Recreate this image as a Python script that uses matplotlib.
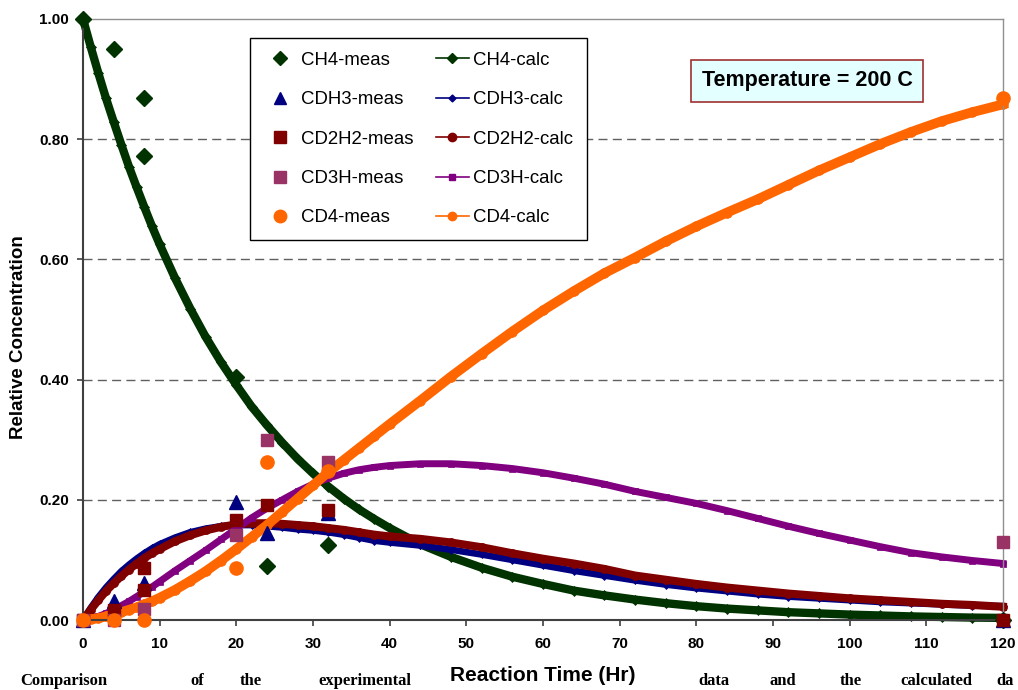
import matplotlib
matplotlib.use("Agg")
import matplotlib.pyplot as plt
from matplotlib.lines import Line2D

plt.rcParams['font.family'] = ['Liberation Sans', 'DejaVu Sans']

# ---------------- data ----------------
t_calc = [0, 1, 2, 3, 4, 5, 6, 7, 8, 9, 10, 12, 14, 16, 18, 20, 22, 24, 26, 28, 30,
          32, 34, 36, 38, 40, 44, 48, 52, 56, 60, 64, 68, 72, 76, 80, 84, 88, 92,
          96, 100, 104, 108, 112, 116, 120]

ch4_calc = [1.000, 0.954, 0.910, 0.868, 0.829, 0.791, 0.754, 0.720, 0.687, 0.655,
            0.625, 0.569, 0.518, 0.471, 0.429, 0.391, 0.355, 0.324, 0.295, 0.268,
            0.244, 0.222, 0.202, 0.184, 0.168, 0.153, 0.126, 0.105, 0.087, 0.072,
            0.060, 0.049, 0.041, 0.034, 0.028, 0.023, 0.019, 0.016, 0.013, 0.011,
            0.009, 0.0075, 0.006, 0.005, 0.004, 0.0035]

cdh3_calc = [0.000, 0.020, 0.038, 0.054, 0.068, 0.081, 0.092, 0.102, 0.111, 0.119,
             0.126, 0.137, 0.146, 0.152, 0.156, 0.158, 0.158, 0.156, 0.154, 0.151,
             0.149, 0.146, 0.142, 0.137, 0.132, 0.129, 0.124, 0.117, 0.109, 0.100,
             0.091, 0.082, 0.074, 0.066, 0.059, 0.053, 0.048, 0.043, 0.039, 0.036,
             0.033, 0.030, 0.028, 0.026, 0.024, 0.023]

cd2h2_calc = [0.000, 0.017, 0.033, 0.048, 0.061, 0.073, 0.084, 0.094, 0.103, 0.111,
              0.118, 0.131, 0.141, 0.149, 0.155, 0.159, 0.161, 0.161, 0.160, 0.158,
              0.156, 0.153, 0.150, 0.146, 0.142, 0.139, 0.135, 0.129, 0.121, 0.111,
              0.102, 0.094, 0.085, 0.074, 0.067, 0.060, 0.054, 0.049, 0.044, 0.040,
              0.036, 0.033, 0.030, 0.027, 0.025, 0.022]

cd3h_calc = [0.000, 0.002, 0.006, 0.011, 0.017, 0.024, 0.031, 0.039, 0.047, 0.055,
             0.064, 0.082, 0.099, 0.116, 0.134, 0.152, 0.170, 0.186, 0.200, 0.214,
             0.226, 0.236, 0.244, 0.250, 0.254, 0.257, 0.260, 0.260, 0.257, 0.252,
             0.245, 0.236, 0.226, 0.214, 0.204, 0.194, 0.182, 0.169, 0.156, 0.144,
             0.133, 0.122, 0.112, 0.105, 0.099, 0.094]

cd4_calc = [0.000, 0.001, 0.003, 0.006, 0.009, 0.013, 0.017, 0.021, 0.026, 0.031,
            0.037, 0.050, 0.065, 0.081, 0.099, 0.118, 0.138, 0.158, 0.180, 0.202,
            0.224, 0.246, 0.266, 0.286, 0.306, 0.326, 0.365, 0.405, 0.443, 0.480,
            0.515, 0.547, 0.577, 0.603, 0.630, 0.655, 0.678, 0.700, 0.724, 0.748,
            0.770, 0.792, 0.812, 0.830, 0.845, 0.858]

t_ch4_meas = [0, 4, 8, 8, 20, 24, 32, 120]
ch4_meas = [1.000, 0.950, 0.868, 0.772, 0.405, 0.090, 0.124, 0.000]

t_cdh3_meas = [0, 4, 8, 20, 24, 32, 120]
cdh3_meas = [0.000, 0.032, 0.062, 0.197, 0.145, 0.178, 0.000]

t_cd2h2_meas = [0, 4, 8, 8, 20, 24, 32, 120]
cd2h2_meas = [0.000, 0.017, 0.086, 0.050, 0.166, 0.191, 0.183, 0.000]

t_cd3h_meas = [0, 4, 8, 20, 24, 32, 120]
cd3h_meas = [0.000, 0.000, 0.019, 0.141, 0.300, 0.263, 0.130]

t_cd4_meas = [0, 4, 8, 20, 24, 32, 120]
cd4_meas = [0.000, 0.000, 0.000, 0.086, 0.263, 0.248, 0.869]

x_ticks = [0, 10, 20, 30, 40, 50, 60, 70, 80, 90, 100, 110, 120]
y_ticks = [0.0, 0.2, 0.4, 0.6, 0.8, 1.0]

# ---------------- styling ----------------
GREEN = '#003300'
NAVY = '#000080'
DRED = '#800000'
MAUVE = '#993366'
PURPLE = '#800080'
ORANGE = '#FF6600'

W, H = 1018, 690
fig = plt.figure(figsize=(W / 100, H / 100), dpi=100)
ax = fig.add_axes([83 / W, 70 / H, 920 / W, 601 / H])
ax.set_xlim(0, 120)
ax.set_ylim(0, 1.0)

# grid
for yv in [0.2, 0.4, 0.6, 0.8]:
    ax.axhline(yv, color='#606060', lw=1.0, dashes=(6.5, 3.8), zorder=0.5)

# calc curves (thick banded look)
calc_specs = [
    (ch4_calc, GREEN, 'D', 5.5, 6.0),
    (cdh3_calc, NAVY, 'D', 4.4, 4.8),
    (cd2h2_calc, DRED, 'o', 5.8, 5.8),
    (cd3h_calc, PURPLE, 's', 4.6, 5.0),
    (cd4_calc, ORANGE, 'o', 7.0, 7.0),
]
for i, (vals, col, mk, ms, lw) in enumerate(calc_specs):
    ax.plot(t_calc, vals, color=col, lw=lw, marker=mk, ms=ms, mfc=col, mec=col,
            mew=0.5, clip_on=False, zorder=2 + i * 0.1, solid_joinstyle='round')

# measured points
ax.plot(t_ch4_meas, ch4_meas, ls='none', marker='D', ms=8.0, color=GREEN, clip_on=False, zorder=4.0)
ax.plot(t_cdh3_meas, cdh3_meas, ls='none', marker='^', ms=9.5, color=NAVY, clip_on=False, zorder=4.1)
ax.plot(t_cd2h2_meas, cd2h2_meas, ls='none', marker='s', ms=8.5, color=DRED, clip_on=False, zorder=4.2)
ax.plot(t_cd3h_meas, cd3h_meas, ls='none', marker='s', ms=8.5, color=MAUVE, clip_on=False, zorder=4.3)
ax.plot(t_cd4_meas, cd4_meas, ls='none', marker='o', ms=9.5, color=ORANGE, clip_on=False, zorder=4.4)

# axes / spines
ax.spines['left'].set_color('#404040')
ax.spines['bottom'].set_color('#404040')
ax.spines['left'].set_linewidth(1.5)
ax.spines['bottom'].set_linewidth(1.5)
ax.spines['top'].set_color('#909090')
ax.spines['right'].set_color('#909090')
ax.spines['top'].set_linewidth(1.0)
ax.spines['right'].set_linewidth(1.0)

ax.set_xticks(x_ticks)
ax.set_yticks(y_ticks)
ax.set_xticklabels([str(v) for v in x_ticks])
ax.set_yticklabels(['%.2f' % v for v in y_ticks])
ax.tick_params(axis='both', direction='out', length=4, width=1.2, color='#404040',
               labelsize=11, pad=6)
ax.tick_params(axis='x', pad=8)
for lab in ax.get_xticklabels() + ax.get_yticklabels():
    lab.set_fontweight('bold')

ax.set_xlabel('Reaction Time (Hr)', fontsize=15, fontweight='bold',
              bbox=dict(facecolor='white', edgecolor='none', pad=2))
ax.xaxis.set_label_coords(0.5, -0.077)
ax.set_ylabel('Relative Concentration', fontsize=13.5, fontweight='bold')
ax.yaxis.set_label_coords(-0.061, 0.47)

# temperature box
ax.text(0.787, 0.897, 'Temperature = 200 C', transform=ax.transAxes,
        ha='center', va='center', fontsize=15.5, fontweight='bold',
        bbox=dict(boxstyle='square,pad=0.5', facecolor='#E4FFFF', edgecolor='#A03030', lw=1.2),
        zorder=6)

# legend
handles = [
    Line2D([], [], ls='none', marker='D', ms=7, color=GREEN),
    Line2D([], [], ls='none', marker='^', ms=9, color=NAVY),
    Line2D([], [], ls='none', marker='s', ms=8, color=DRED),
    Line2D([], [], ls='none', marker='s', ms=8, color=MAUVE),
    Line2D([], [], ls='none', marker='o', ms=9, color=ORANGE),
    Line2D([], [], lw=1.2, marker='D', ms=5, color=GREEN),
    Line2D([], [], lw=1.2, marker='D', ms=3.5, color=NAVY),
    Line2D([], [], lw=1.2, marker='o', ms=6, color=DRED),
    Line2D([], [], lw=1.2, marker='s', ms=5, color=PURPLE),
    Line2D([], [], lw=1.2, marker='o', ms=6, color=ORANGE),
]
labels = ['CH4-meas', 'CDH3-meas', 'CD2H2-meas', 'CD3H-meas', 'CD4-meas',
          'CH4-calc', 'CDH3-calc', 'CD2H2-calc', 'CD3H-calc', 'CD4-calc']
leg = fig.legend(handles, labels, ncol=2, loc='upper left',
                 bbox_to_anchor=(250 / W, 1 - 38 / H), borderaxespad=0,
                 fontsize=13.4, handlelength=1.75, handletextpad=0.25,
                 columnspacing=1.2, labelspacing=1.2, borderpad=0.75,
                 frameon=True, fancybox=False, framealpha=1, edgecolor='black')
leg.get_frame().set_linewidth(1.0)
leg.set_zorder(7)

# caption of the source document (partly hidden behind the axis title)
cap_words = [('Comparison', 20), ('of', 190), ('the', 240), ('experimental', 318),
             ('data', 698), ('and', 770), ('the', 840), ('calculated', 900), ('da', 996)]
for word, xp in cap_words:
    fig.text(xp / W, 5 / H, word, fontsize=12, fontweight='bold',
             family=['Liberation Serif', 'DejaVu Serif'], ha='left', va='baseline', zorder=1)

fig.savefig('out.png', dpi=100)
